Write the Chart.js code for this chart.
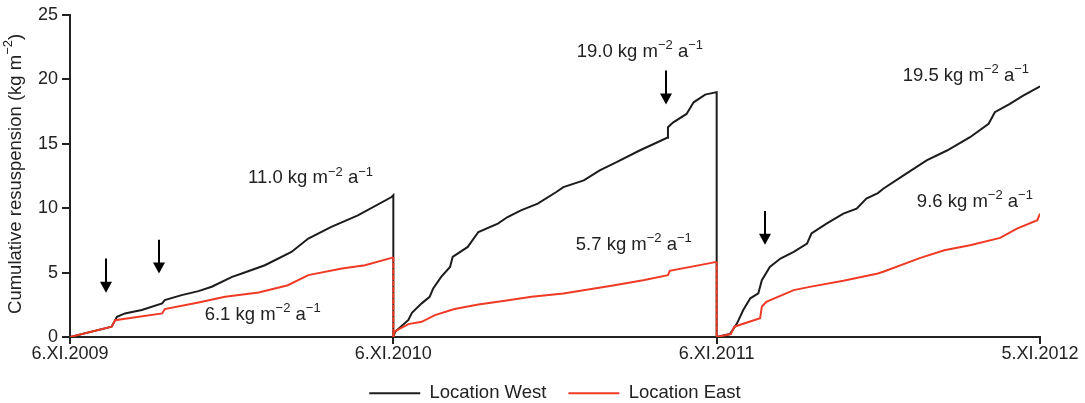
<!DOCTYPE html>
<html>
<head>
<meta charset="utf-8">
<script src="https://cdn.jsdelivr.net/npm/chart.js@4"></script>
<style>
html,body{margin:0;padding:0;background:#fff;}
#wrap{width:1085px;height:403px;}
</style>
</head>
<body>
<div id="wrap"><canvas id="c" width="1085" height="403"></canvas></div>
<script>
// ---- DATA (days since 6.XI.2009, cumulative kg m^-2) ----
const westDays = [0,47,53,62,81,104,107,126,145,160,183,194,220,250,269,295,325,363,365,
  365,367,382,386,397,406,410,419,429,432,449,461,483,494,509,528,549,557,580,598,617,643,674,675,681,696,704,717,730,
  730,745,753,760,768,777,781,790,802,817,832,837,854,873,888,899,912,918,941,967,990,1016,1037,1044,1061,1076,1093,1095];
const westValues = [0,0.8,1.57,1.83,2.09,2.61,2.86,3.25,3.56,3.9,4.67,4.93,5.57,6.6,7.64,8.54,9.44,10.86,11.0,
  0,0.41,1.32,1.88,2.61,3.12,3.77,4.67,5.44,6.22,6.99,8.15,8.8,9.31,9.83,10.35,11.25,11.63,12.15,12.93,13.57,14.47,15.46,16.28,16.66,17.31,18.21,18.81,19.0,
  0,0.23,1.06,2.09,3.0,3.38,4.41,5.44,6.09,6.6,7.25,8.03,8.8,9.57,9.96,10.74,11.17,11.5,12.54,13.7,14.47,15.5,16.54,17.44,18.09,18.73,19.37,19.45];
const eastDays = [0,47,51,70,104,107,145,175,213,246,269,307,333,363,365,
  365,366,382,397,412,434,461,491,521,557,613,647,675,677,730,
  730,746,750,779,781,786,817,835,873,912,918,960,987,1016,1050,1069,1092,1095];
const eastValues = [0,0.8,1.3,1.5,1.83,2.17,2.68,3.12,3.46,4.02,4.8,5.32,5.57,6.14,6.2,
  0,0.41,1.0,1.18,1.7,2.17,2.53,2.81,3.12,3.38,4.0,4.4,4.8,5.13,5.83,
  0,0.23,0.8,1.45,2.35,2.73,3.64,3.89,4.36,4.93,5.06,6.14,6.73,7.12,7.69,8.41,9.06,9.57];
const tickDays = [0,365,730,1095];
const tickLabels = ['6.XI.2009','6.XI.2010','6.XI.2011','5.XI.2012'];
const seriesNames = ['Location West','Location East'];
// annotations: rate labels (value text, anchor day, anchor value)
const rateTexts = ['11.0','6.1','19.0','5.7','19.5','9.6'];
const rateDays = [201,152,572,571,940,956];
const rateVals = [11.92,1.32,21.75,6.75,19.9,10.12];
// arrows: day, top value, tip value
const arrowDays = [41,100,673,785];
const arrowTop = [6.1,7.55,20.67,9.78];
const arrowTip = [3.43,4.93,18.04,7.16];

const BLACK = '#1c1c1c';
const RED = '#ef3a26';
const TXT = '#222';
const FONT = 'Liberation Sans, Arial, sans-serif';
const TSIZE = 18.5;

function drawRich(ctx, parts, x, y, size, align) {
  const sup = Math.round(size * 0.68);
  let w = 0;
  const widths = parts.map(p => {
    ctx.font = (p.s ? sup : size) + 'px ' + FONT;
    const m = ctx.measureText(p.t).width; w += m; return m;
  });
  let cx = align === 'center' ? x - w / 2 : x;
  parts.forEach((p, i) => {
    ctx.font = (p.s ? sup : size) + 'px ' + FONT;
    ctx.fillText(p.t, cx, p.s ? y - size * 0.42 : y);
    cx += widths[i];
  });
}

const legendFit = {
  id: 'legendFit',
  beforeLayout(chart) {
    const lg = chart.legend;
    if (lg && !lg.__p) {
      const f = lg.fit;
      lg.fit = function () { f.call(this); this.height = 41; };
      lg.__p = true;
    }
  }
};

const annot = {
  id: 'annot',
  afterDatasetsDraw(chart) {
    const ctx = chart.ctx, xs = chart.scales.x, ys = chart.scales.y;
    ctx.save();
    ctx.fillStyle = TXT;
    ctx.textBaseline = 'alphabetic';
    ctx.textAlign = 'left';
    rateTexts.forEach((t, i) => {
      drawRich(ctx, [{t: t + ' kg m'}, {t: '\u2212' + '2', s: 1}, {t: ' a'}, {t: '\u2212' + '1', s: 1}],
        xs.getPixelForValue(rateDays[i]), ys.getPixelForValue(rateVals[i]), TSIZE, 'left');
    });
    // arrows
    ctx.strokeStyle = '#000'; ctx.fillStyle = '#000'; ctx.lineWidth = 2;
    arrowDays.forEach((d, i) => {
      const x = Math.round(xs.getPixelForValue(d));
      const y0 = ys.getPixelForValue(arrowTop[i]);
      const y1 = ys.getPixelForValue(arrowTip[i]);
      ctx.beginPath(); ctx.moveTo(x, y0); ctx.lineTo(x, y1 - 10); ctx.stroke();
      ctx.beginPath(); ctx.moveTo(x - 6, y1 - 11); ctx.lineTo(x + 6, y1 - 11); ctx.lineTo(x, y1); ctx.closePath(); ctx.fill();
    });
    // y axis title
    const ca = chart.chartArea;
    ctx.translate(16, (ca.top + ca.bottom) / 2 - 2);
    ctx.rotate(-Math.PI / 2);
    ctx.fillStyle = TXT;
    ctx.textBaseline = 'middle';
    drawRich(ctx, [{t: 'Cumulative resuspension (kg m'}, {t: '\u2212' + '2', s: 1}, {t: ')'}], 0, 0, TSIZE, 'center');
    ctx.restore();
  }
};

const mk = (days, vals) => days.map((d, i) => ({x: d, y: vals[i]}));

new Chart(document.getElementById('c'), {
  type: 'line',
  data: {
    datasets: [
      {label: seriesNames[0], data: mk(westDays, westValues), borderColor: BLACK, backgroundColor: BLACK,
       borderWidth: 2, pointRadius: 0, tension: 0, order: 1},
      {label: seriesNames[1], data: mk(eastDays, eastValues), borderColor: RED, backgroundColor: RED,
       borderWidth: 2, pointRadius: 0, tension: 0, order: 0,
       segment: {borderDash: c => c.p0.parsed.x === c.p1.parsed.x ? [3, 3] : undefined}}
    ]
  },
  options: {
    responsive: false,
    animation: false,
    layout: {padding: {top: 4, right: 45, left: 0, bottom: 0}},
    plugins: {
      tooltip: {enabled: false},
      legend: {
        position: 'bottom',
        fullSize: false,
        labels: {
          usePointStyle: true, pointStyle: 'line', pointStyleWidth: 51,
          font: {size: TSIZE, family: FONT}, color: TXT, padding: 22,
          sort: (a, b) => a.datasetIndex - b.datasetIndex
        }
      }
    },
    scales: {
      x: {
        type: 'linear', min: 0, max: 1095,
        afterBuildTicks: s => { s.ticks = tickDays.map(v => ({value: v})); },
        afterFit: s => { s.height = 25; },
        ticks: {callback: (v) => { const i = tickDays.indexOf(v); return i >= 0 ? tickLabels[i] : ''; },
          font: {size: 18, family: FONT}, color: TXT, padding: -1, maxRotation: 0, autoSkip: false},
        grid: {display: true, drawOnChartArea: false, drawTicks: true, tickLength: 7, color: '#222', lineWidth: 2},
        border: {display: true, color: '#222', width: 2}
      },
      y: {
        min: 0, max: 25,
        afterFit: s => { s.width = 70; },
        ticks: {stepSize: 5, font: {size: 18, family: FONT}, color: TXT, padding: 4},
        grid: {display: true, drawOnChartArea: false, drawTicks: true, tickLength: 8, color: '#222', lineWidth: 2},
        border: {display: true, color: '#222', width: 2}
      }
    }
  },
  plugins: [legendFit, annot]
});
</script>
</body>
</html>
